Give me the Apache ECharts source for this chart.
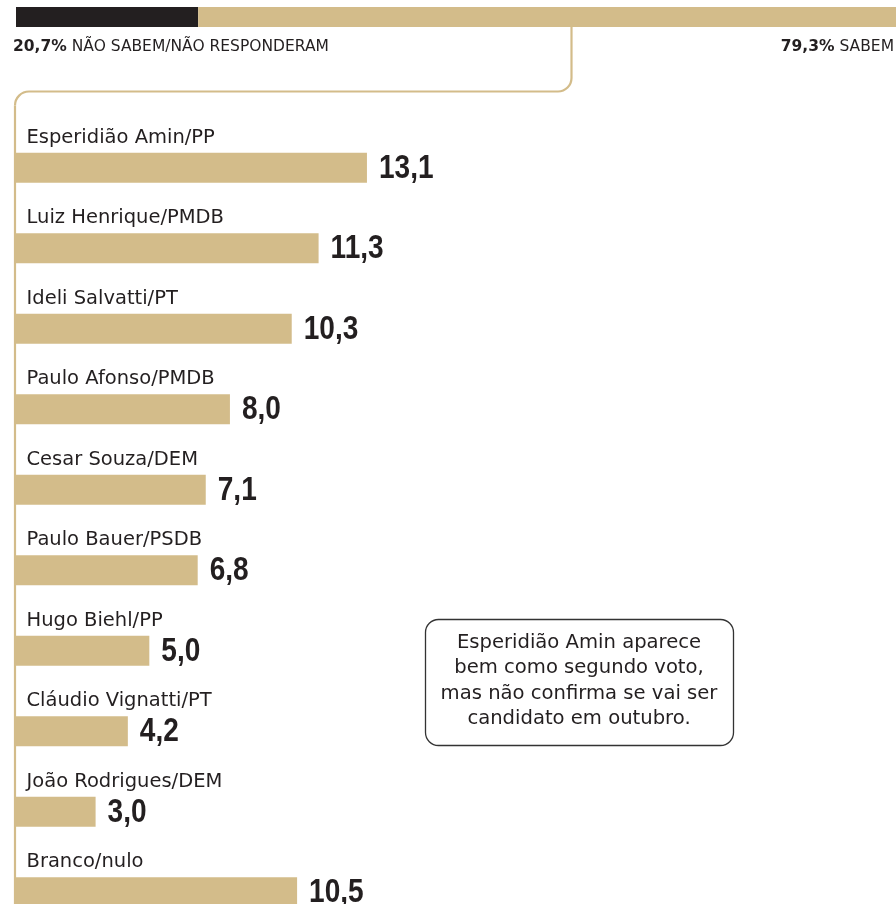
<!DOCTYPE html>
<html lang="pt">
<head>
    <meta charset="UTF-8">
    <title>Intenção de voto</title>
    <script src="https://cdn.jsdelivr.net/npm/echarts@6/dist/echarts.min.js"></script>
    <style>
        html, body { margin: 0; padding: 0; background: #fff; overflow: hidden; }
    </style>
</head>
<body>
<div id="chartmain" style="width:896px; height:940px;"></div>
<script type="text/javascript">

    // candidatos (ordem de cima para baixo)
    var candidatos = ['Esperidião Amin/PP', 'Luiz Henrique/PMDB', 'Ideli Salvatti/PT', 'Paulo Afonso/PMDB',
        'Cesar Souza/DEM', 'Paulo Bauer/PSDB', 'Hugo Biehl/PP', 'Cláudio Vignatti/PT',
        'João Rodrigues/DEM', 'Branco/nulo'];
    var votos = [13.1, 11.3, 10.3, 8.0, 7.1, 6.8, 5.0, 4.2, 3.0, 10.5];

    // barra do topo
    var grupos = ['NÃO SABEM/NÃO RESPONDERAM', 'SABEM'];
    var percentuais = [20.7, 79.3];

    var nota = 'Esperidião Amin aparece\nbem como segundo voto,\nmas não confirma se vai ser\ncandidato em outubro.';

    var tan = '#d3bc8a';
    var escuro = '#231f20';

    function virgula(v) {
        return v.toFixed(1).replace('.', ',');
    }

    // chave que liga a barra do topo à lista
    var linha = {stroke: tan, lineWidth: 2.2, fill: 'none'};

    var topoLabel = {
        color: escuro,
        fontFamily: 'DejaVu Sans',
        fontSize: 15.5,
        verticalAlign: 'middle',
        formatter: function (p) { return '{b|' + virgula(p.value) + '%} ' + p.seriesName; },
        rich: {b: {fontFamily: 'DejaVu Sans', fontWeight: 'bold', fontSize: 15.5, color: escuro}}
    };

    var option = {
        animation: false,
        backgroundColor: '#ffffff',
        grid: [
            {left: 15, top: 127.5, width: 806, height: 805},
            {left: 16, top: 7, width: 884, height: 20}
        ],
        xAxis: [
            {type: 'value', gridIndex: 0, min: 0, max: 30, show: false},
            {type: 'value', gridIndex: 1, min: 0, max: 100, show: false}
        ],
        yAxis: [
            {type: 'category', gridIndex: 0, data: candidatos, inverse: true, show: false},
            {type: 'category', gridIndex: 1, data: ['total'], show: false}
        ],
        graphic: [
            {type: 'line', shape: {x1: 571.5, y1: 27, x2: 571.5, y2: 78}, style: linha},
            {type: 'arc', shape: {cx: 558, cy: 78, r: 13.5, startAngle: 0, endAngle: Math.PI / 2, clockwise: true}, style: linha},
            {type: 'line', shape: {x1: 558, y1: 91.5, x2: 29, y2: 91.5}, style: linha},
            {type: 'arc', shape: {cx: 29, cy: 105.5, r: 14, startAngle: Math.PI, endAngle: Math.PI * 1.5, clockwise: true}, style: linha},
            {type: 'line', shape: {x1: 15, y1: 105.5, x2: 15, y2: 940}, style: linha},
            {
                type: 'rect',
                shape: {x: 425.5, y: 619.5, width: 308, height: 126, r: 13},
                style: {fill: '#fff', stroke: '#333', lineWidth: 1.3}
            },
            {
                type: 'text',
                x: 579, y: 681,
                style: {
                    text: nota,
                    fill: escuro,
                    font: '19.6px "DejaVu Sans"',
                    lineHeight: 25.4,
                    align: 'center',
                    verticalAlign: 'middle'
                }
            }
        ],
        series: [
            {
                name: 'nomes',
                type: 'bar',
                xAxisIndex: 0, yAxisIndex: 0,
                data: votos,
                barWidth: 30,
                barGap: '-100%',
                silent: true,
                itemStyle: {color: 'transparent'},
                label: {
                    show: true,
                    position: [11.5, -15],
                    align: 'left',
                    verticalAlign: 'middle',
                    formatter: function (p) { return p.name; },
                    color: escuro,
                    fontFamily: 'DejaVu Sans',
                    fontSize: 19.5
                }
            },
            {
                name: 'votos',
                type: 'bar',
                xAxisIndex: 0, yAxisIndex: 0,
                data: votos,
                barWidth: 30,
                barGap: '-100%',
                itemStyle: {color: tan}
            },
            {
                // números em negrito condensado ao lado de cada barra
                name: 'rotulos',
                type: 'custom',
                xAxisIndex: 0, yAxisIndex: 0,
                silent: true,
                data: votos.map(function (v, i) { return [v, i]; }),
                encode: {x: 0, y: 1},
                renderItem: function (params, api) {
                    var v = api.value(0);
                    var p = api.coord([v, api.value(1)]);
                    return {
                        type: 'text',
                        x: p[0] + 12,
                        y: p[1] + 1,
                        scaleX: 0.85,
                        style: {
                            text: virgula(v),
                            fill: escuro,
                            font: 'bold 33px "Liberation Sans"',
                            align: 'left',
                            verticalAlign: 'middle'
                        }
                    };
                }
            },
            {
                name: grupos[0],
                type: 'bar',
                xAxisIndex: 1, yAxisIndex: 1,
                stack: 'total',
                data: [percentuais[0]],
                barWidth: 20,
                itemStyle: {color: escuro},
                label: Object.assign({show: true, position: [-3, 40], align: 'left'}, topoLabel)
            },
            {
                name: grupos[1],
                type: 'bar',
                xAxisIndex: 1, yAxisIndex: 1,
                stack: 'total',
                data: [percentuais[1]],
                barWidth: 20,
                itemStyle: {color: tan},
                label: Object.assign({show: true, position: ['100%', 40], offset: [-2, 0], align: 'right'}, topoLabel)
            }
        ]
    };

    var myChart = echarts.init(document.getElementById('chartmain'));
    myChart.setOption(option);

</script>
</body>
</html>
